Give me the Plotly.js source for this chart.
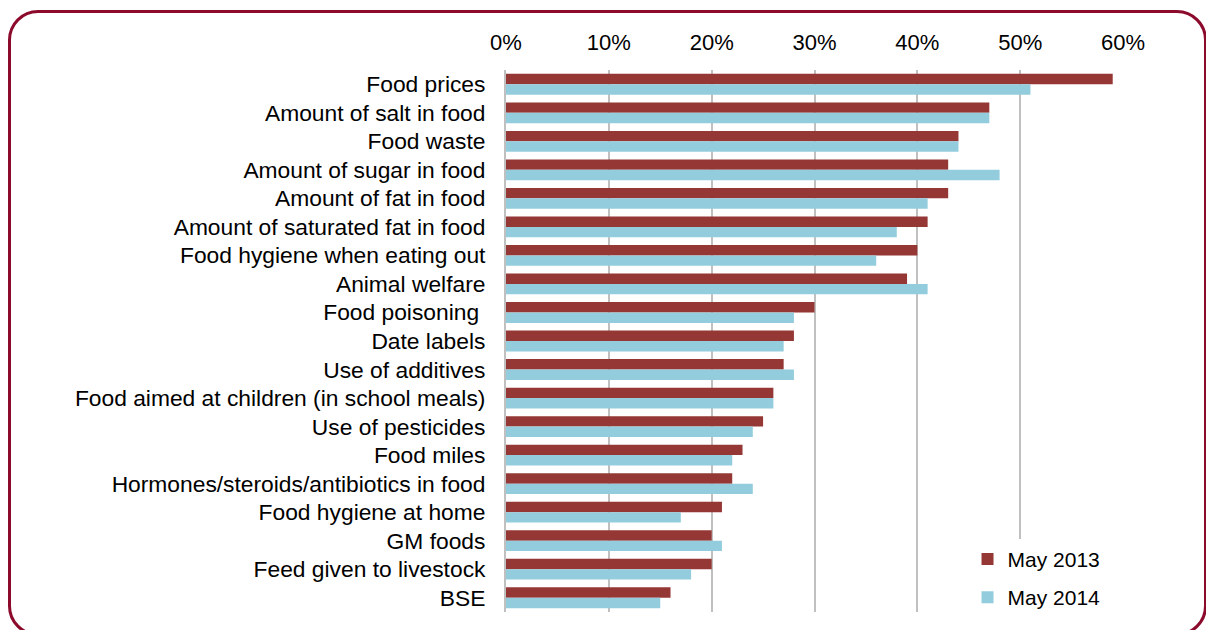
<!DOCTYPE html>
<html>
<head>
<meta charset="utf-8">
<script src="https://cdn.plot.ly/plotly-3.0.1.min.js"></script>
<style>
  html, body { margin: 0; padding: 0; background: #ffffff; }
  #wrap { position: relative; width: 1206px; height: 630px; overflow: hidden; }
  #chart { position: absolute; left: 0; top: 0; width: 1206px; height: 630px; }
  #frame { position: absolute; left: 8px; top: 10px; width: 1193px; height: 620px;
           border: 3px solid #8c0a2c; border-radius: 30px; pointer-events: none; }
</style>
</head>
<body>
<div id="wrap">
  <div id="chart"></div>
  <div id="frame"></div>
</div>
<script>
const categories = [
  "Food prices",
  "Amount of salt in food",
  "Food waste",
  "Amount of sugar in food",
  "Amount of fat in food",
  "Amount of saturated fat in food",
  "Food hygiene when eating out",
  "Animal welfare",
  "Food poisoning ",
  "Date labels",
  "Use of additives",
  "Food aimed at children (in school meals)",
  "Use of pesticides",
  "Food miles",
  "Hormones/steroids/antibiotics in food",
  "Food hygiene at home",
  "GM foods",
  "Feed given to livestock",
  "BSE"
];
const may2013 = [0.59, 0.47, 0.44, 0.43, 0.43, 0.41, 0.40, 0.39, 0.30, 0.28, 0.27, 0.26, 0.25, 0.23, 0.22, 0.21, 0.20, 0.20, 0.16];
const may2014 = [0.51, 0.47, 0.44, 0.48, 0.41, 0.38, 0.36, 0.41, 0.28, 0.27, 0.28, 0.26, 0.24, 0.22, 0.24, 0.17, 0.21, 0.18, 0.15];
const seriesNames = ["May 2013", "May 2014"];
const tickVals = [0, 0.1, 0.2, 0.3, 0.4, 0.5, 0.6];
const tickText = ["0%", "10%", "20%", "30%", "40%", "50%", "60%"];

const traces = [
  { type: 'bar', orientation: 'h', name: seriesNames[0], y: categories, x: may2013,
    marker: { color: '#953735' }, legendgroup: 'a', hoverinfo: 'x+y' },
  { type: 'bar', orientation: 'h', name: seriesNames[1], y: categories, x: may2014,
    marker: { color: '#93cddd' }, legendgroup: 'b', hoverinfo: 'x+y' }
];

const layout = {
  width: 1206, height: 630,
  margin: { l: 506, r: 83, t: 70, b: 12, pad: 0 },
  paper_bgcolor: '#ffffff', plot_bgcolor: '#ffffff',
  font: { family: 'Liberation Sans, Arial, sans-serif', size: 22, color: '#000000' },
  barmode: 'group', bargap: 0.27, bargroupgap: 0,
  showlegend: true,
  legend: {
    x: 0.748, y: 0.135, xanchor: 'left', yanchor: 'top',
    bgcolor: '#ffffff', borderwidth: 0,
    font: { size: 21, color: '#000000' },
    traceorder: 'grouped', tracegroupgap: 8,
    itemwidth: 30
  },
  xaxis: {
    side: 'top', range: [0, 0.6], tickvals: tickVals, ticktext: tickText,
    showgrid: true, gridcolor: '#c0c0c0', gridwidth: 2,
    zeroline: false, showline: false, ticks: '', fixedrange: true,
    ticklabelstandoff: 15,
    tickfont: { size: 22 }
  },
  yaxis: {
    type: 'category', autorange: 'reversed',
    showline: true, linecolor: '#c0c0c0', linewidth: 2,
    showgrid: false, zeroline: false, ticks: '',
    ticklabelstandoff: 14, tickfont: { size: 22.8 }, fixedrange: true
  }
};

Plotly.newPlot('chart', traces, layout, { displayModeBar: false, staticPlot: true });
</script>
</body>
</html>
